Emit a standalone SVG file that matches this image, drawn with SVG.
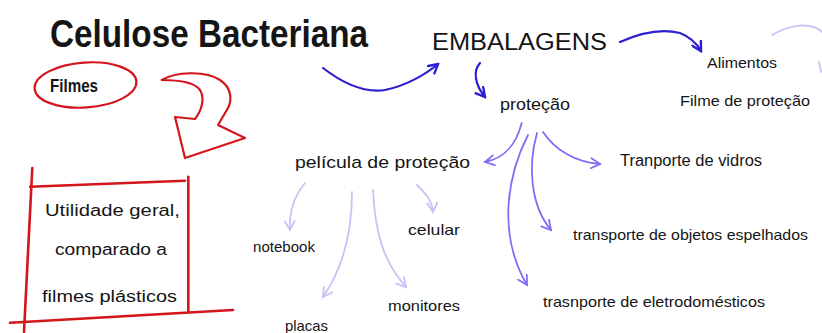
<svg xmlns="http://www.w3.org/2000/svg" width="822" height="333" viewBox="0 0 822 333">
<style>
.t{font-family:"Liberation Sans",Arial,sans-serif;fill:#151515;}
.red{fill:none;stroke:#d4151b;stroke-linecap:round;stroke-linejoin:round;}
.dk{fill:none;stroke:#2c1fd2;stroke-width:2.2;stroke-linecap:round;}
.md{fill:none;stroke:#7d6ef4;stroke-width:1.8;stroke-linecap:round;}
.lt{fill:none;stroke:#c8c2f6;stroke-width:1.8;stroke-linecap:round;}
</style>
<defs>
<marker id="mDk" viewBox="0 0 12 12" refX="10" refY="6" markerWidth="12" markerHeight="12" orient="auto" markerUnits="userSpaceOnUse"><path d="M1,1 L10,6 L1,11" fill="none" stroke="#2c1fd2" stroke-width="2.4" stroke-linecap="round"/></marker>
<marker id="mMd" viewBox="0 0 12 12" refX="10" refY="6" markerWidth="12" markerHeight="12" orient="auto" markerUnits="userSpaceOnUse"><path d="M1,1 L10,6 L1,11" fill="none" stroke="#7d6ef4" stroke-width="1.8" stroke-linecap="round"/></marker>
<marker id="mLt" viewBox="0 0 12 12" refX="10" refY="6" markerWidth="12" markerHeight="12" orient="auto" markerUnits="userSpaceOnUse"><path d="M1,1 L10,6 L1,11" fill="none" stroke="#c8c2f6" stroke-width="1.8" stroke-linecap="round"/></marker>
</defs>
<rect width="822" height="333" fill="#ffffff"/>

<g id="title"><text class="t" x="50" y="47" font-size="38" font-weight="bold" textLength="318" lengthAdjust="spacingAndGlyphs">Celulose Bacteriana</text></g>

<g id="filmes">
<ellipse class="red" cx="85.5" cy="85" rx="51" ry="22.5" stroke-width="2.2" transform="rotate(-4 85.5 85)"/>
<text class="t" x="50" y="92" font-size="18" font-weight="bold" textLength="48" lengthAdjust="spacingAndGlyphs">Filmes</text>
</g>

<g id="red-arrow">
<path class="red" stroke-width="2.2" d="M161.7,80 C175,72 205,70 220,80 C232,88 232,100 228,108 L218,125 L245,138 L185,158 L175,117 L195,119 C202,110 205,98 200,90 C195,83 180,80 161.7,80 Z"/>
</g>

<g id="utilidade">
<path class="red" stroke-width="2.6" d="M32.3,168 L24,332 M30,186.7 L185,180.7 M188.3,176.7 L188.3,311.7 M10,322.7 L233,310"/>
<text class="t" x="45" y="216" font-size="16" textLength="135" lengthAdjust="spacingAndGlyphs">Utilidade geral,</text>
<text class="t" x="55" y="255" font-size="16" textLength="112" lengthAdjust="spacingAndGlyphs">comparado a</text>
<text class="t" x="42" y="302" font-size="16" textLength="135" lengthAdjust="spacingAndGlyphs">filmes plásticos</text>
</g>

<g id="embalagens"><text class="t" x="432" y="50" font-size="23" textLength="175" lengthAdjust="spacingAndGlyphs">EMBALAGENS</text></g>
<g id="alimentos"><text class="t" x="707" y="68" font-size="14" textLength="70" lengthAdjust="spacingAndGlyphs">Alimentos</text></g>
<g id="filme-protecao"><text class="t" x="680" y="106" font-size="15" textLength="130" lengthAdjust="spacingAndGlyphs">Filme de proteção</text></g>
<g id="protecao"><text class="t" x="500" y="110" font-size="17" textLength="70" lengthAdjust="spacingAndGlyphs">proteção</text></g>
<g id="pelicula"><text class="t" x="295" y="168" font-size="17" textLength="175" lengthAdjust="spacingAndGlyphs">película de proteção</text></g>
<g id="vidros"><text class="t" x="620" y="166" font-size="16" textLength="142" lengthAdjust="spacingAndGlyphs">Tranporte de vidros</text></g>
<g id="espelhados"><text class="t" x="573" y="240" font-size="15" textLength="235" lengthAdjust="spacingAndGlyphs">transporte de objetos espelhados</text></g>
<g id="eletro"><text class="t" x="543" y="307" font-size="15" textLength="222" lengthAdjust="spacingAndGlyphs">trasnporte de eletrodomésticos</text></g>
<g id="notebook"><text class="t" x="253" y="252" font-size="15" textLength="62" lengthAdjust="spacingAndGlyphs">notebook</text></g>
<g id="celular"><text class="t" x="408" y="235" font-size="15" textLength="52" lengthAdjust="spacingAndGlyphs">celular</text></g>
<g id="monitores"><text class="t" x="388" y="311" font-size="15" textLength="72" lengthAdjust="spacingAndGlyphs">monitores</text></g>
<g id="placas"><text class="t" x="285" y="331" font-size="15" textLength="43" lengthAdjust="spacingAndGlyphs">placas</text></g>

<g id="connectors">
<path class="dk" d="M323,68 C345,85 365,93 385,90 C405,86 425,75 438,64" marker-end="url(#mDk)"/>
<path class="dk" d="M620,42 C640,33 660,28 680,33 C690,37 697,44 701,51" marker-end="url(#mDk)"/>
<path class="dk" stroke-width="2.6" d="M480,63 C472,72 476,86 485,97" marker-end="url(#mDk)"/>
<path class="md" d="M521.7,123 C516,145 505,158 485,162" marker-end="url(#mMd)"/>
<path class="md" d="M543,132 C555,150 575,162 600,164" marker-end="url(#mMd)"/>
<path class="md" d="M537,133 C528,165 530,205 551,230" marker-end="url(#mMd)"/>
<path class="md" d="M528,135 C510,170 495,230 527,285" marker-end="url(#mMd)"/>
<path class="lt" d="M305,183 C295,195 289,210 290,230" marker-end="url(#mLt)"/>
<path class="lt" d="M352,192 C352,230 345,265 323,297" marker-end="url(#mLt)"/>
<path class="lt" d="M373,190 C375,230 382,260 406,287" marker-end="url(#mLt)"/>
<path class="lt" d="M417,185 C425,193 432,200 433,212" marker-end="url(#mLt)"/>
<path class="lt" stroke-width="1.5" d="M772,35 C790,24 812,22 822,32 M819,62 L821,72"/>
</g>
</svg>
